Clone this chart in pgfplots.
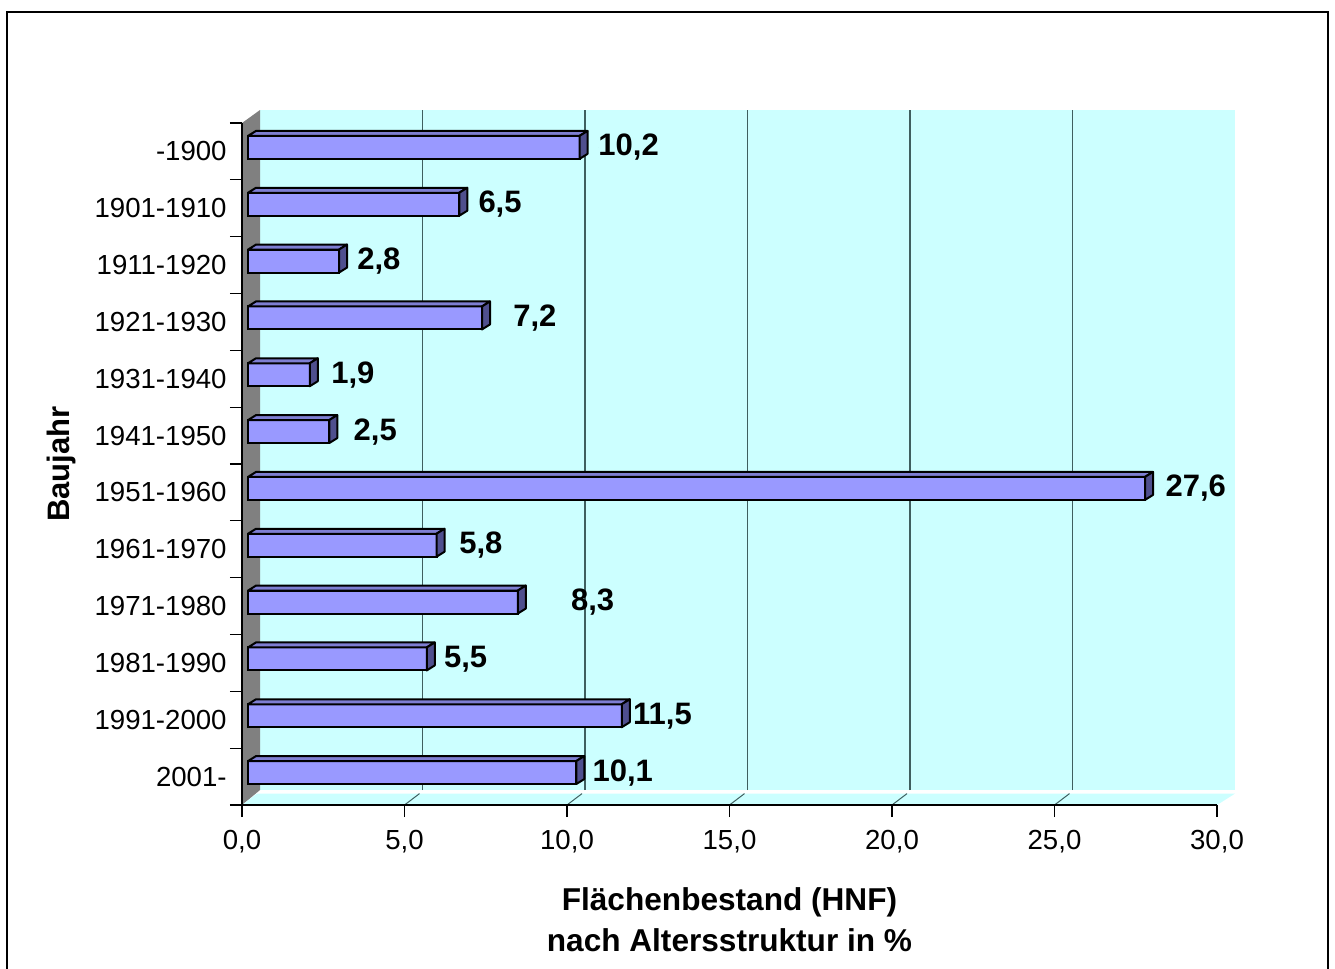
\documentclass[border=0pt]{standalone}
\usepackage{pgfplots}
\usepackage{pgfplotstable}
\pgfplotsset{compat=1.18}
\usepackage{fontspec}
\setmainfont{Liberation Sans}
\definecolor{wallc}{HTML}{CCFFFF}
\definecolor{sidewall}{HTML}{808080}
\definecolor{barfront}{HTML}{9999FF}
\definecolor{bartop}{HTML}{7E7ED2}
\definecolor{barside}{HTML}{4F4F8E}
\definecolor{gridc}{HTML}{3F5F5F}

% y: category position, v: value, lab: label text, lx: label anchor position
\pgfplotstableread{
y v lab lx
11 10.2 10,2 10.77
10 6.5 6,5 7.08
9 2.8 2,8 3.35
8 7.2 7,2 8.15
7 1.9 1,9 2.55
6 2.5 2,5 3.24
5 27.6 27,6 28.22
4 5.8 5,8 6.49
3 8.3 8,3 9.93
2 5.5 5,5 6.02
1 11.5 11,5 11.84
0 10.1 10,1 10.59
}\data

\begin{document}
\begin{tikzpicture}
\useasboundingbox (0pt,0pt) rectangle (667.5pt,-484.5pt);
% outer frame
\draw[line width=0.75pt] (3.5pt,-6pt) rectangle (664pt,-495pt);
% back wall
\fill[wallc] (130pt,-55pt) rectangle (617.5pt,-395pt);
% left wall
\fill[sidewall] (121pt,-61.5pt) -- (130pt,-55pt) -- (130pt,-395pt) -- (121pt,-402.5pt) -- cycle;
% floor
\fill[wallc] (121pt,-402.5pt) -- (128.5pt,-396.8pt) -- (617.5pt,-396.8pt) -- (608.5pt,-402.5pt) -- cycle;
\foreach \v in {5,10,...,25}{
  \draw[gridc, line width=0.5pt] ({121pt+16.25pt*\v},-402.5pt) -- ({128.5pt+16.25pt*\v},-396.8pt);
}

% back wall gridlines
\begin{axis}[
  at={(130pt,-395pt)}, anchor=south west,
  scale only axis, width=487.5pt, height=340pt,
  xmin=0, xmax=30, ymin=0, ymax=1,
  xtick={5,10,...,25}, ytick=\empty,
  xticklabels={}, major tick length=0pt,
  xmajorgrids, grid style={gridc, line width=0.6pt},
  axis line style={draw=none},
]
\end{axis}

% front axis: ticks, labels
\begin{axis}[
  at={(121pt,-402.5pt)}, anchor=south west,
  scale only axis, width=487.5pt, height=341pt,
  xmin=0, xmax=30, ymin=-0.5, ymax=11.5,
  axis x line*=bottom, axis y line*=left,
  axis line style={line width=0.6pt, -},
  xtick={0,5,...,30},
  /pgf/number format/.cd, fixed, fixed zerofill, precision=1, use comma, assume math mode=true,
  /pgfplots/.cd,
  ytick={0,...,11},
  yticklabels={2001-,1991-2000,1981-1990,1971-1980,1961-1970,1951-1960,1941-1950,1931-1940,1921-1930,1911-1920,1901-1910,-1900},
  ytick style={draw=none},
  xtick style={line width=0.6pt, black},
  xtick pos=bottom,
  tick align=outside,
  major tick length=6pt,
  extra y ticks={-0.5,0.5,...,11.5},
  extra y tick labels={},
  extra y tick style={ytick style={draw=black, line width=0.6pt}, tick align=outside, major tick length=6pt},
  tick label style={font=\fontsize{13.8}{16}\selectfont, inner sep=0pt},
  yticklabel style={anchor=east, xshift=-1.5pt},
  xticklabel style={anchor=north, yshift=-6.5pt},
]
\end{axis}

% bars
\begin{axis}[
  at={(124pt,-400.5pt)}, anchor=south west,
  scale only axis, width=487.5pt, height=341pt,
  xmin=0, xmax=30, ymin=-0.5, ymax=11.5,
  hide axis, clip=false,
]
\addplot[xbar, bar width=11.5pt, fill=barfront, draw=black, line width=1pt] table[x=v, y=y] {\data};
\addplot[only marks, scatter, mark=*, mark size=0pt,
  visualization depends on={x \as \val},
  scatter/@pre marker code/.code={%
    \pgfkeys{/pgf/fpu=true}%
    \pgfmathparse{\val*16.25}%
    \pgfmathfloattofixed{\pgfmathresult}%
    \edef\L{\pgfmathresult}%
    \pgfkeys{/pgf/fpu=false}%
    \filldraw[fill=bartop, draw=black, line width=1pt, line join=round] (-\L pt,5.75pt) -- ++(4pt,2.5pt) -- (4pt,8.25pt) -- (0pt,5.75pt) -- cycle;
    \filldraw[fill=barside, draw=black, line width=1pt, line join=round] (0pt,5.75pt) -- (4pt,8.25pt) -- (4pt,-3.25pt) -- (0pt,-5.75pt) -- cycle;
  },
  scatter/@post marker code/.code={},
] table[x=v, y=y] {\data};
\addplot[only marks, mark=*, mark size=0pt, mark options={draw=none, fill=none},
  nodes near coords, point meta=explicit symbolic,
  nodes near coords align=horizontal,
  every node near coord/.append style={anchor=west, inner sep=0pt, font=\fontsize{15.5}{18}\selectfont\bfseries, text=black},
] table[x=lx, y=y, meta=lab] {\data};
\end{axis}

% axis titles
\node[rotate=90, anchor=base, font=\fontsize{15.5}{18}\selectfont\bfseries] at (34.5pt,-232pt) {Baujahr};
\node[anchor=north, align=center, inner sep=0pt, font=\fontsize{15.8}{20.5}\selectfont\bfseries] at (364.75pt,-443.5pt) {Flächenbestand (HNF)\\nach Altersstruktur in \%};
\end{tikzpicture}
\end{document}
